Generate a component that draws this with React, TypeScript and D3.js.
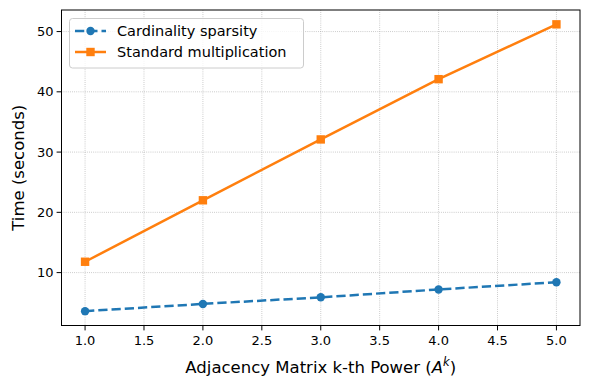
import * as d3 from "d3";

const powers = [1, 2, 3, 4, 5];
const cardinality = [3.6, 4.8, 5.9, 7.2, 8.4];
const standard = [11.8, 22.0, 32.1, 42.1, 51.2];
const xTicks = [1.0, 1.5, 2.0, 2.5, 3.0, 3.5, 4.0, 4.5, 5.0];
const yTicks = [10, 20, 30, 40, 50];

const W = 590;
const H = 390;
const ml = 61.5, mr = 10, mt = 10, mb = 64.5;
const font = "DejaVu Sans, sans-serif";

export default function App() {
  const x = d3.scaleLinear([0.8, 5.2], [ml, W - mr]);
  const all = [...cardinality, ...standard];
  const lo = d3.min(all)!, hi = d3.max(all)!;
  const pad = (hi - lo) * 0.05;
  const y = d3.scaleLinear([lo - pad, hi + pad], [H - mb, mt]);
  const line = d3.line<number>().x((_, i) => x(powers[i])).y((d) => y(d));

  return (
    <svg width={W} height={H} style={{ position: "absolute", left: 0, top: 0 }} fontFamily={font}>
      <rect width={W} height={H} fill="white" />
      {/* grid */}
      <g stroke="#b0b0b0" strokeWidth={0.8} strokeDasharray="0.8,1.32">
        {xTicks.map((t) => (
          <line key={"gx" + t} x1={x(t)} x2={x(t)} y1={mt} y2={H - mb} />
        ))}
        {yTicks.map((t) => (
          <line key={"gy" + t} x1={ml} x2={W - mr} y1={y(t)} y2={y(t)} />
        ))}
      </g>
      {/* series */}
      <path d={line(cardinality)!} fill="none" stroke="#1f77b4" strokeWidth={2.5} strokeDasharray="9.25,4" />
      {cardinality.map((v, i) => (
        <circle key={"c" + i} cx={x(powers[i])} cy={y(v)} r={4.2} fill="#1f77b4" />
      ))}
      <path d={line(standard)!} fill="none" stroke="#ff7f0e" strokeWidth={2.5} />
      {standard.map((v, i) => (
        <rect key={"s" + i} x={x(powers[i]) - 4.2} y={y(v) - 4.2} width={8.4} height={8.4} fill="#ff7f0e" />
      ))}
      {/* frame */}
      <rect x={ml} y={mt} width={W - mr - ml} height={H - mb - mt} fill="none" stroke="black" strokeWidth={1} />
      {/* x axis */}
      {xTicks.map((t) => (
        <g key={"xt" + t}>
          <line x1={x(t)} x2={x(t)} y1={H - mb} y2={H - mb + 4.9} stroke="black" strokeWidth={1} />
          <text x={x(t)} y={H - mb + 19} textAnchor="middle" fontSize={13}>
            {t.toFixed(1)}
          </text>
        </g>
      ))}
      {yTicks.map((t) => (
        <g key={"yt" + t}>
          <line x1={ml - 4.9} x2={ml} y1={y(t)} y2={y(t)} stroke="black" strokeWidth={1} />
          <text x={ml - 8} y={y(t)} dy="0.35em" textAnchor="end" fontSize={13}>
            {t}
          </text>
        </g>
      ))}
      <text x={(ml + W - mr) / 2} y={373} textAnchor="middle" fontSize={16.5}>
        Adjacency Matrix k-th Power (<tspan fontStyle="italic">A</tspan>
        <tspan fontStyle="italic" fontSize={11.5} dy={-7}>k</tspan>
        <tspan dy={7}>)</tspan>
      </text>
      <text transform={`translate(24,${(mt + H - mb) / 2}) rotate(-90)`} textAnchor="middle" fontSize={16.5}>
        Time (seconds)
      </text>
      {/* legend */}
      <g>
        <rect x={69.5} y={18.5} width={234} height={49.5} rx={3} fill="white" fillOpacity={0.8} stroke="#cccccc" strokeWidth={1} />
        <line x1={75} x2={106} y1={31} y2={31} stroke="#1f77b4" strokeWidth={2.5} strokeDasharray="9.25,4" />
        <circle cx={90.5} cy={31} r={4.2} fill="#1f77b4" />
        <text x={117} y={31} dy="0.35em" fontSize={14.5}>Cardinality sparsity</text>
        <line x1={75} x2={106} y1={52} y2={52} stroke="#ff7f0e" strokeWidth={2.5} />
        <rect x={86.3} y={47.8} width={8.4} height={8.4} fill="#ff7f0e" />
        <text x={117} y={52} dy="0.35em" fontSize={14.5}>Standard multiplication</text>
      </g>
    </svg>
  );
}
